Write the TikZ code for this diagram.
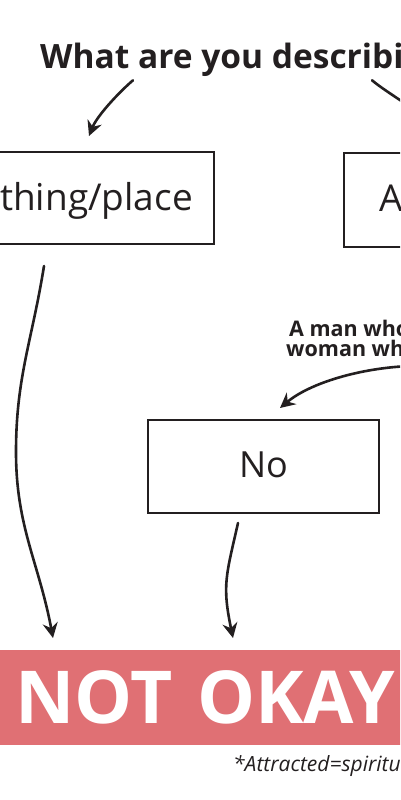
\documentclass[tikz,border=0pt]{standalone}
\usepackage{fontspec}
\setmainfont{Open Sans}
\usetikzlibrary{arrows.meta}
\definecolor{ink}{HTML}{231F20}
\definecolor{barred}{RGB}{224,112,116}
\begin{document}
\begin{tikzpicture}[x=1pt,y=-1pt,
  box/.style={draw=ink, line width=2pt, fill=white, text=ink, inner sep=0pt,
    font=\fontsize{37}{44}\selectfont},
  conn/.style={draw=ink, line width=2.6pt, line cap=round,
    -{Stealth[length=15pt,width=15pt,inset=5pt]}},
  lbl/.style={text=ink, inner sep=0pt, font=\bfseries\fontsize{21.5}{19.5}\selectfont}
  ]
\useasboundingbox (0,0) rectangle (400,800);
\clip (0,0) rectangle (400,800);
\fill[white] (0,0) rectangle (400,800);

% title
\node[text=ink, inner sep=0pt, anchor=base west, font=\bfseries\fontsize{33.5}{40}\selectfont]
  (title) at (40,68) {What are you describing};

% boxes
\node[box, minimum width=235pt, minimum height=92pt, text height=30pt, text depth=6pt]
  (thing) at (96.5,198) {thing/place};
\node[box, anchor=north west, minimum height=94pt, inner xsep=35pt, text height=27pt, text depth=5pt]
  (person) at (343,152) {A};
\node[box, minimum width=231pt, minimum height=93pt, font=\fontsize{36}{43}\selectfont,
  text height=26pt, text depth=4pt]
  (no) at (263.5,466.5) {No};

% condition label
\node[lbl, anchor=north west, align=left] (cond) at (286,320)
  {\hspace{3pt}A man who\\woman who};
\coordinate (condsrc) at (410,366);

% NOT OKAY bar
\node[fill=barred, text=white, anchor=north west, minimum height=95pt, minimum width=420pt,
  inner xsep=20pt, inner ysep=0pt, align=left, text width=380pt,
  font=\bfseries\fontsize{73}{80}\selectfont]
  (notokay) at (-5,650) {NOT OKAY};

% footnote
\node[text=ink, inner sep=0pt, anchor=base west, font=\itshape\fontsize{21}{25}\selectfont]
  (foot) at (233,771) {*Attracted=spiritual};

% connectors
\coordinate (bend1) at (16,452);
\draw[conn] ([shift={(93,4)}]title.south west) .. controls +(-15,13) and +(8,-20) ..
  ([shift={(-7.5,-15)}]thing.north);
\draw[conn] ([shift={(332,4)}]title.south west) .. controls +(15,13) and +(-8,-20) ..
  ([shift={(95,-15)}]person.north west);
\draw[conn] ([shift={(-52.5,21)}]thing.south) .. controls +(-12,75) and +(0,-75) .. (bend1)
  .. controls +(0,75) and +(-14,-75) .. ([shift={(58,-12)}]notokay.north west);
\draw[conn] (condsrc) .. controls +(-50,2) and +(30,-25) ..
  ([shift={(16.5,-11)}]no.north);
\draw[conn] ([shift={(-25.5,9)}]no.south) .. controls +(-12,53) and +(-11,-53) ..
  ([shift={(238,-12)}]notokay.north west);
\end{tikzpicture}
\end{document}
